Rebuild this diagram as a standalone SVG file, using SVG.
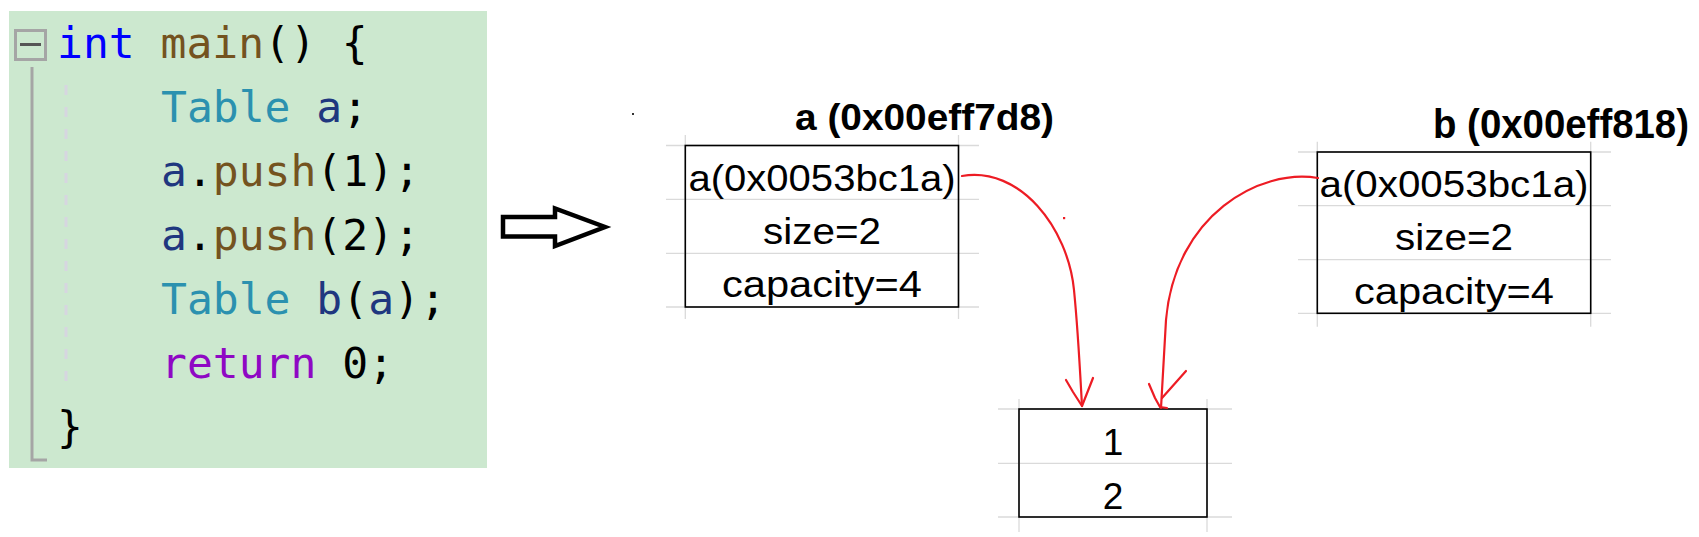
<svg xmlns="http://www.w3.org/2000/svg" width="1699" height="537" viewBox="0 0 1699 537">
<style>
.code{font-family:"DejaVu Sans Mono","Liberation Mono",monospace;font-size:43px;fill:#000}
.kw{fill:#0000ff}.fn{fill:#74531f}.ty{fill:#2b91af}.var{fill:#1f377f}.ret{fill:#8f08c4}
.grid{stroke:#dadada;stroke-width:1.3;fill:none}
.box{fill:none;stroke:#000;stroke-width:1.6}
.cell{font-family:"Liberation Sans",Arial,sans-serif;font-size:37px;fill:#000;text-anchor:middle}
.title{font-family:"Liberation Sans",Arial,sans-serif;font-weight:bold;fill:#000}
.red{fill:none;stroke:#ed1c24;stroke-width:2.2;stroke-linejoin:round;stroke-linecap:round}
</style>
<rect width="1699" height="537" fill="#fff"/>
<g id="code">
<rect x="9" y="11" width="478" height="457" fill="#cce8cf"/>
<rect x="15.5" y="30.5" width="30" height="29" fill="none" stroke="#a5a5a5" stroke-width="3"/>
<line x1="20" y1="44.5" x2="41" y2="44.5" stroke="#555" stroke-width="3"/>
<polyline points="32,67 32,460 47,460" fill="none" stroke="#a5a5a5" stroke-width="3"/>
<line x1="66" y1="85" x2="66" y2="388" stroke="#d6d6e0" stroke-width="3" stroke-dasharray="10,12"/>
<text class="code" x="57" y="58"><tspan class="kw">int</tspan> <tspan class="fn">main</tspan>() {</text>
<text class="code" x="161" y="122"><tspan class="ty">Table</tspan> <tspan class="var">a</tspan>;</text>
<text class="code" x="161" y="186"><tspan class="var">a</tspan>.<tspan class="fn">push</tspan>(1);</text>
<text class="code" x="161" y="250"><tspan class="var">a</tspan>.<tspan class="fn">push</tspan>(2);</text>
<text class="code" x="161" y="314"><tspan class="ty">Table</tspan> <tspan class="var">b</tspan>(<tspan class="var">a</tspan>);</text>
<text class="code" x="161" y="378"><tspan class="ret">return</tspan> 0;</text>
<text class="code" x="57" y="442">}</text>
</g>
<g id="arrow">
<polygon points="503,217 555,217 555,208.5 605,227 555,246 555,236.5 503,236.5" fill="#fff" stroke="#000" stroke-width="4.5" stroke-linejoin="miter"/>
<rect x="632" y="113" width="2" height="2" fill="#333"/>
</g>
<g id="table-a">
<path class="grid" d="M666,145.5H979M666,199.3H979M666,253.3H979M666,307H979M685.3,135V319M958.5,135V319"/>
<rect class="box" x="685.3" y="145.5" width="273.2" height="161.5"/>
<text class="title" x="795" y="130" font-size="36" textLength="259" lengthAdjust="spacingAndGlyphs">a (0x00eff7d8)</text>
<text class="cell" x="822" y="190.5" textLength="267" lengthAdjust="spacingAndGlyphs">a(0x0053bc1a)</text>
<text class="cell" x="822" y="243.5" textLength="118" lengthAdjust="spacingAndGlyphs">size=2</text>
<text class="cell" x="822" y="297" textLength="200" lengthAdjust="spacingAndGlyphs">capacity=4</text>
</g>
<g id="table-b">
<path class="grid" d="M1298,152H1611M1298,205.7H1611M1298,259.7H1611M1298,313.3H1611M1317.3,141.7V326.7M1590.7,141.7V326.7"/>
<rect class="box" x="1317.3" y="152" width="273.4" height="161.3"/>
<text class="title" x="1433" y="138" font-size="40" textLength="256" lengthAdjust="spacingAndGlyphs">b (0x00eff818)</text>
<text class="cell" x="1454" y="197" textLength="269" lengthAdjust="spacingAndGlyphs">a(0x0053bc1a)</text>
<text class="cell" x="1454" y="250" textLength="118" lengthAdjust="spacingAndGlyphs">size=2</text>
<text class="cell" x="1454" y="304" textLength="200" lengthAdjust="spacingAndGlyphs">capacity=4</text>
</g>
<g id="heap">
<path class="grid" d="M998,409H1232M998,463.3H1232M998,517H1232M1019,399V532M1207,399V532"/>
<rect class="box" x="1019" y="409" width="188" height="108"/>
<text class="cell" x="1113" y="455" font-size="41">1</text>
<text class="cell" x="1113" y="509" font-size="41">2</text>
</g>
<g id="connectors">
<path class="red" d="M962,176 C1020,166 1068,228 1074,290 C1078,330 1080,370 1082,406"/>
<path class="red" d="M1066,380 L1073,392 L1082,406 L1093,378"/>
<path class="red" d="M1318,178 C1260,168 1175,215 1166,320 L1161,408"/>
<path class="red" d="M1149,384 L1155,398 L1160,407 L1167,408 M1186,371 L1162,398"/>
<rect x="1063" y="217" width="2.2" height="2.2" fill="#ed1c24"/>
</g>
</svg>
